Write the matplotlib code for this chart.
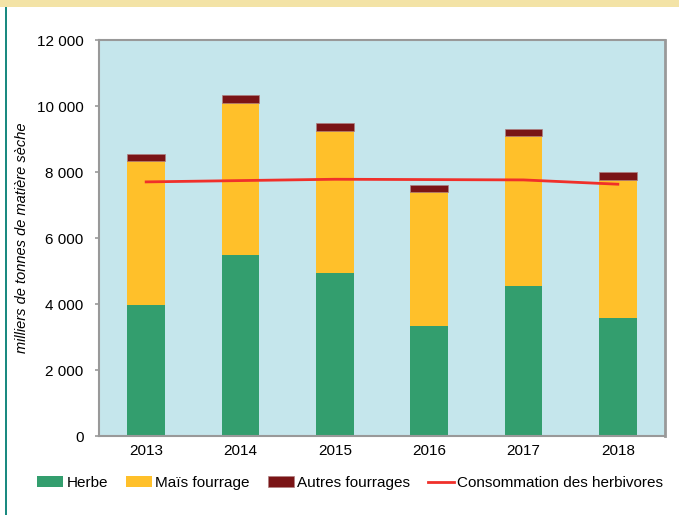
import matplotlib.pyplot as plt
from matplotlib.patches import Rectangle
import numpy as np

plt.rcParams['font.family'] = ['Liberation Sans', 'DejaVu Sans']

annees = ['2013', '2014', '2015', '2016', '2017', '2018']
herbe = [3970, 5480, 4940, 3330, 4550, 3580]
mais = [4360, 4620, 4300, 4060, 4540, 4180]
autres = [210, 220, 240, 210, 210, 240]
consommation = [7700, 7740, 7780, 7770, 7760, 7630]

fig = plt.figure(figsize=(6.79, 5.15), dpi=100)
fig.patch.set_facecolor('white')

# bandeau du haut et filet gauche
fig.patches.append(Rectangle((0, 1 - 7 / 515), 1, 7 / 515, transform=fig.transFigure,
                             facecolor='#F3E3A6', edgecolor='none'))
fig.patches.append(Rectangle((4.5 / 679, 0), 2.5 / 679, 1 - 7 / 515, transform=fig.transFigure,
                             facecolor='#1A8A80', edgecolor='none'))

ax = fig.add_axes([99 / 679, 1 - 436 / 515, 566 / 679, 396 / 515])
ax.set_facecolor('#C5E6EC')

x = np.arange(len(annees))
w = 0.4
b1 = np.array(herbe)
b2 = b1 + np.array(mais)
h1 = ax.bar(x, herbe, w, color='#339E6E', label='Herbe')
h2 = ax.bar(x, mais, w, bottom=b1, color='#FFC02A', label='Maïs fourrage')
h3 = ax.bar(x, autres, w, bottom=b2, color='#7A1416', edgecolor='#B08080', linewidth=0.5,
            label='Autres fourrages')
h4, = ax.plot(x, consommation, color='#F0302A', linewidth=2, label='Consommation des herbivores')

ax.set_xlim(-0.5, len(annees) - 0.5)
ax.set_ylim(0, 12000)
ax.set_yticks(range(0, 12001, 2000))
ax.set_yticklabels([f'{v:,}'.replace(',', ' ') for v in range(0, 12001, 2000)])
ax.set_xticks(x)
ax.set_xticklabels(annees)
ax.tick_params(labelsize=11, length=3, width=1.2, color='#999999')
ax.tick_params(axis='y', pad=8)
ax.tick_params(axis='x', length=0, pad=6)

for s in ['left', 'bottom', 'top', 'right']:
    ax.spines[s].set_color('#999999')
    ax.spines[s].set_linewidth(1.5)
ax.spines['right'].set_linewidth(2)

ax.set_ylabel('milliers de tonnes de matière sèche', fontsize=10.5, style='italic', labelpad=6)

fig.legend([h1, h2, h3, h4],
           ['Herbe', 'Maïs fourrage', 'Autres fourrages', 'Consommation des herbivores'],
           loc='center', bbox_to_anchor=(0.516, 1 - 483 / 515), ncol=4, frameon=False,
           fontsize=11, handlelength=1.7, handletextpad=0.2, columnspacing=1.2)

fig.savefig('out.png', dpi=100)
